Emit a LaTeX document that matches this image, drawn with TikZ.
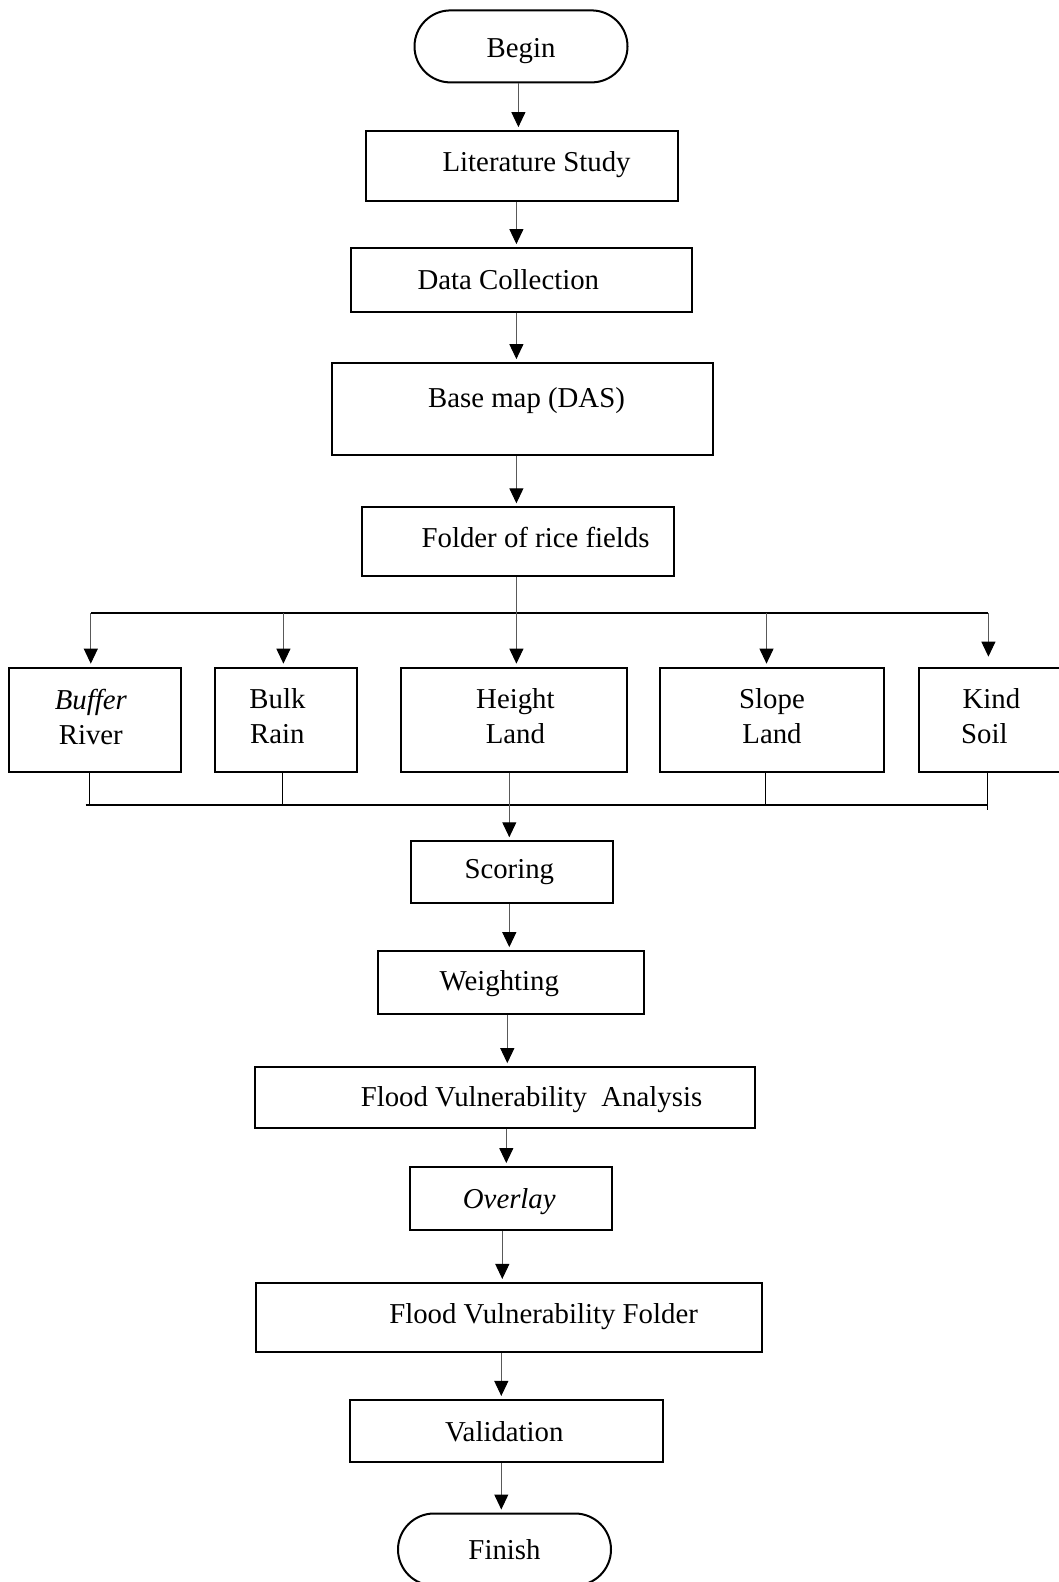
\documentclass[tikz,border=0pt]{standalone}
\usepackage{fontspec}
\setmainfont{Liberation Serif}
\usetikzlibrary{calc}
\usetikzlibrary{positioning}
\usetikzlibrary{shapes.misc}
\usetikzlibrary{arrows.meta}
\tikzstyle{procbox} = [draw, rectangle, line width=2pt, inner sep=0pt]
\tikzstyle{termnode} = [draw, rounded rectangle, line width=2pt, minimum width=213pt, minimum height=72pt, inner sep=0pt]
\tikzstyle{arr} = [draw=black!65, line width=1pt, -{Triangle[length=15pt, width=14pt, color=black]}, shorten >=3pt]
\tikzstyle{branch} = [draw=black, line width=1.2pt]

\begin{document}
\begin{tikzpicture}[x=1pt, y=-1pt, font=\fontsize{28.8}{35}\selectfont]
    \useasboundingbox (0,0) rectangle (1058,1582);

    % main column
    \node[termnode, label={[yshift=-5pt]center:Begin}] (begin) at (521,46.4) {};
    \node[procbox, minimum width=311.7pt, minimum height=69.6pt, label={[xshift=14.6pt, yshift=1.5pt]center:Literature Study}] (lit) at (522,165.9) {};
    \node[procbox, minimum width=340.9pt, minimum height=63.6pt, label={[xshift=-13.2pt, yshift=0pt]center:Data Collection}] (data) at (521.5,279.9) {};
    \node[procbox, minimum width=381.3pt, minimum height=91.8pt, label={[xshift=4pt, yshift=8pt]center:Base map (DAS)}] (base) at (522.5,409) {};
    \node[procbox, minimum width=311.7pt, minimum height=68.6pt, label={[xshift=17.6pt, yshift=4pt]center:Folder of rice fields}] (folder) at (518,541.6) {};

    % parameters
    \node[procbox, minimum width=171.4pt, minimum height=103.9pt, label={[align=center, xshift=-4pt, yshift=3pt]center:{\textit{Buffer}\\River}}] (buffer) at (94.8,719.6) {};
    \node[procbox, minimum width=142.2pt, minimum height=103.9pt, label={[align=center, xshift=-8.5pt, yshift=3pt]center:{Bulk\\Rain}}] (bulk) at (285.9,719.6) {};
    \node[procbox, minimum width=225.9pt, minimum height=103.9pt, label={[align=center, xshift=1pt, yshift=3pt]center:{Height\\Land}}] (height) at (514.4,719.6) {};
    \node[procbox, minimum width=224.9pt, minimum height=103.9pt, label={[align=center, yshift=3pt]center:{Slope\\Land}}] (slope) at (772,719.6) {};
    \node[procbox, minimum width=151.2pt, minimum height=103.9pt, label={[align=center, xshift=-10pt, yshift=3pt]center:{\hspace*{14pt}Kind\\Soil}}] (kind) at (994.4,719.6) {};

    \node[procbox, minimum width=202.7pt, minimum height=61.5pt, label={[xshift=-2.6pt, yshift=-0.5pt]center:Scoring}] (scoring) at (511.9,872) {};
    \node[procbox, minimum width=265.3pt, minimum height=62.5pt, label={[xshift=-11.6pt, yshift=-1pt]center:Weighting}] (weighting) at (510.9,982.4) {};
    \node[procbox, minimum width=500.2pt, minimum height=60.5pt, label={[xshift=26.2pt, yshift=-2pt]center:Flood Vulnerability~ Analysis}] (analysis) at (505.3,1097.4) {};
    \node[procbox, minimum width=202.7pt, minimum height=62.5pt, label={[xshift=-1.6pt, yshift=-3pt]center:\textit{Overlay}}] (overlay) at (510.9,1198.3) {};
    \node[procbox, minimum width=506.3pt, minimum height=69.5pt, label={[xshift=34.3pt, yshift=1.5pt]center:Flood Vulnerability Folder}] (vulnfolder) at (509.3,1317.7) {};
    \node[procbox, minimum width=312.7pt, minimum height=62.5pt, label={[xshift=-2pt, yshift=-1pt]center:Validation}] (validation) at (506.3,1431.2) {};
    \node[termnode] (finish) at (504.5,1549.5) {Finish};

    \draw[arr] ([xshift=-2.6pt]begin.south) -- ([xshift=-2.6pt]begin.south |- lit.north);
    \draw[arr] ([xshift=-5.6pt]lit.south) -- ([xshift=-5.6pt]lit.south |- data.north);
    \draw[arr] ([xshift=-5.1pt]data.south) -- ([xshift=-5.1pt]data.south |- base.north);
    \draw[arr] ([xshift=-6.1pt]base.south) -- ([xshift=-6.1pt]base.south |- folder.north);

    % split to the five maps
    \coordinate (split_l) at (90.8,613);
    \coordinate (split_r) at (988.4,613);
    \draw[branch] (split_l) -- (split_r);
    \draw[arr] ([xshift=-1.6pt]folder.south) -- ([xshift=-1.6pt]folder.south |- height.north);
    \draw[arr] (split_l) -- (split_l |- buffer.north);
    \draw[arr] ([xshift=-2.5pt]bulk.north |- split_l) -- ([xshift=-2.5pt]bulk.north);
    \draw[arr] ([xshift=-5.5pt]slope.north |- split_l) -- ([xshift=-5.5pt]slope.north);
    \draw[arr, shorten >=10pt] (split_r) -- (split_r |- kind.north);

    % merge
    \coordinate (merge_l) at (85.7,805);
    \coordinate (merge_r) at (987.4,805);
    \draw[branch] (merge_l) -- (merge_r);
    \draw[branch] ([xshift=-5pt]buffer.south) -- ([xshift=-5pt]buffer.south |- merge_l);
    \draw[branch] ([xshift=-3.5pt]bulk.south) -- ([xshift=-3.5pt]bulk.south |- merge_l);
    \draw[branch] ([xshift=-6.5pt]slope.south) -- ([xshift=-6.5pt]slope.south |- merge_l);
    \draw[branch] ([xshift=-7pt]kind.south) -- ([yshift=-5pt]merge_r);
    \draw[arr] ([xshift=-5.1pt]height.south) -- ([xshift=-5.1pt]height.south |- scoring.north);

    \draw[arr] ([xshift=-2.6pt]scoring.south) -- ([xshift=-2.6pt]scoring.south |- weighting.north);
    \draw[arr] ([xshift=-3.6pt]weighting.south) -- ([xshift=-3.6pt]weighting.south |- analysis.north);
    \draw[arr] ([xshift=1pt]analysis.south) -- ([xshift=1pt]analysis.south |- overlay.north);
    \draw[arr] ([xshift=-8.6pt]overlay.south) -- ([xshift=-8.6pt]overlay.south |- vulnfolder.north);
    \draw[arr] ([xshift=-8pt]vulnfolder.south) -- ([xshift=-8pt]vulnfolder.south |- validation.north);
    \draw[arr] ([xshift=-5pt]validation.south) -- ([xshift=-5pt]validation.south |- finish.north);
\end{tikzpicture}
\end{document}
